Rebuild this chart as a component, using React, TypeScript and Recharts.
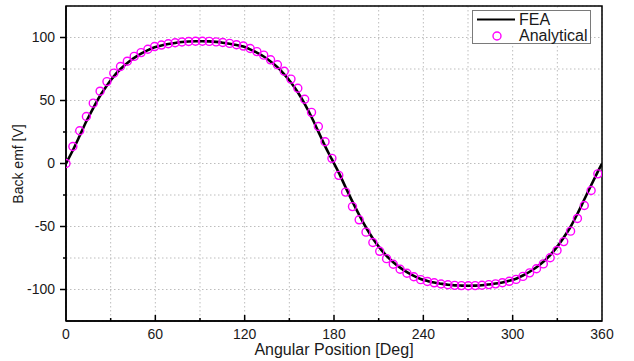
import { ComposedChart, Line, XAxis, YAxis, CartesianGrid, ReferenceArea, Label } from 'recharts';

// sample angles [deg] (analytical points are spaced ~4.58 deg, FEA closes at 360)
const angles = [
  0, 4.6, 9.2, 13.7, 18.3, 22.9, 27.5, 32.1, 36.6, 41.2, 45.8, 50.4, 55.0, 59.5, 64.1, 68.7,
  73.3, 77.9, 82.4, 87.0, 91.6, 96.2, 100.8, 105.3, 109.9, 114.5, 119.1, 123.7, 128.2, 132.8,
  137.4, 142.0, 146.6, 151.1, 155.7, 160.3, 164.9, 169.5, 174.0, 178.6, 183.2, 187.8, 192.4,
  196.9, 201.5, 206.1, 210.7, 215.3, 219.8, 224.4, 229.0, 233.6, 238.2, 242.7, 247.3, 251.9,
  256.5, 261.1, 265.6, 270.2, 274.8, 279.4, 284.0, 288.5, 293.1, 297.7, 302.3, 306.9, 311.4,
  316.0, 320.6, 325.2, 329.8, 334.3, 338.9, 343.5, 348.1, 352.7, 357.2, 360,
];

const fea = [
  0, 10.5, 22, 33.5, 44, 53.8, 62, 69.2, 75, 79.8, 83.8, 87.2, 90, 92.2, 93.7, 94.8,
  95.7, 96.4, 96.8, 97, 97, 96.9, 96.5, 95.9, 95.1, 94.1, 92.8, 90.6, 88, 84.9,
  81, 76.5, 70.8, 64.3, 56.5, 47.3, 36.9, 25.3, 13.8, 3.2, -7.3, -18.9, -30.3,
  -40.8, -50.8, -59.5, -67, -73.3, -78.3, -82.6, -86.2, -89.2, -91.6, -93.2, -94.5, -95.4,
  -96.2, -96.7, -96.9, -97, -96.9, -96.6, -96, -95.3, -94.4, -93.1, -91.4, -88.9, -85.9,
  -82.3, -78, -72.7, -66.2, -58.7, -50.2, -39.9, -28.6, -17.3, -6.5, 0,
];

const analytical = [
  0, 13.5, 26, 37.3, 47.9, 57.4, 65, 71.7, 77, 81.2, 85, 88, 90.7, 92.8, 94, 95,
  95.8, 96.4, 96.8, 97, 97, 96.9, 96.5, 96, 95.3, 94.3, 93.2, 91.3, 88.8, 86,
  82.3, 78.4, 73.2, 67, 59.7, 51, 40.6, 29.4, 17.3, 4.1, -9.4, -22.7, -34.2,
  -44.7, -54.5, -62.7, -69.7, -75.5, -80, -83.9, -87.1, -89.9, -92.2, -93.6, -94.7, -95.6,
  -96.2, -96.7, -96.9, -97, -96.9, -96.6, -96.1, -95.5, -94.6, -93.5, -92, -89.6, -86.8,
  -83.5, -79.7, -74.8, -69, -62, -53.7, -43.6, -33.3, -21.4, -8.2,
];

const xTicks = [0, 30, 60, 90, 120, 150, 180, 210, 240, 270, 300, 330, 360];
const yTicks = [-125, -100, -75, -50, -25, 0, 25, 50, 75, 100, 125];

const rows = angles.map((a, i) => ({ angle: a, fea: fea[i], analytical: analytical[i] }));

const FONT = '"Liberation Sans", Arial, sans-serif';

function XTick({ x, y, payload }: any) {
  const v = payload.value;
  const major = v % 60 === 0;
  return (
    <g>
      {v !== 0 && v !== 360 && (
        <line x1={x} x2={x} y1={y} y2={y - (major ? 6 : 3)} stroke="#000" strokeWidth={1.5} />
      )}
      {major && (
        <text x={x} y={y + 17.5} textAnchor="middle" fontSize={14} fontFamily={FONT} fill="#1a1a1a">
          {v}
        </text>
      )}
    </g>
  );
}

function YTick({ x, y, payload }: any) {
  const v = payload.value;
  if (Math.abs(v) === 125) return <g />;
  const major = v % 50 === 0;
  return (
    <g>
      <line x1={x} x2={x - (major ? 6 : 3)} y1={y} y2={y} stroke="#000" strokeWidth={1.5} />
      {major && (
        <text x={x - 11} y={y} dy="0.35em" textAnchor="end" fontSize={14} fontFamily={FONT} fill="#1a1a1a">
          {v}
        </text>
      )}
    </g>
  );
}

export default function App() {
  return (
    <div style={{ position: 'relative', width: 634, height: 361, background: '#fff' }}>
      <style>{'body{margin:0}'}</style>
      <ComposedChart width={634} height={361} data={rows} margin={{ top: 6, right: 32, bottom: 0, left: 0 }}>
        <CartesianGrid stroke="#bdbdbd" strokeDasharray="1.5 2.5" strokeWidth={1} />
        <XAxis
          dataKey="angle"
          type="number"
          domain={[0, 360]}
          ticks={xTicks}
          interval={0}
          height={40}
          tickSize={0}
          tickMargin={0}
          tickLine={false}
          axisLine={{ stroke: '#000', strokeWidth: 1.5 }}
          tick={<XTick />}
          allowDataOverflow
        >
          <Label
            value="Angular Position [Deg]"
            position="insideBottom"
            offset={6}
            style={{ fontSize: 16, fontFamily: FONT, fill: '#1a1a1a' }}
          />
        </XAxis>
        <YAxis
          type="number"
          domain={[-125, 125]}
          ticks={yTicks}
          interval={0}
          width={66}
          tickSize={0}
          tickMargin={0}
          tickLine={false}
          axisLine={{ stroke: '#000', strokeWidth: 1.5 }}
          tick={<YTick />}
          allowDataOverflow
        >
          <Label
            content={() => (
              <text
                x={18}
                y={164}
                dy="0.35em"
                transform="rotate(-90, 18, 164)"
                textAnchor="middle"
                fontSize={14}
                fontFamily={FONT}
                fill="#1a1a1a"
              >
                Back emf [V]
              </text>
            )}
          />
        </YAxis>
        <Line
          type="monotone"
          dataKey="fea"
          stroke="#000"
          strokeWidth={2.6}
          dot={false}
          activeDot={false}
          isAnimationActive={false}
        />
        <Line
          type="monotone"
          dataKey="analytical"
          stroke="none"
          dot={{ r: 4, stroke: '#ff00ff', strokeWidth: 1.4, fill: 'none' }}
          activeDot={false}
          isAnimationActive={false}
        />
        <ReferenceArea x1={0} x2={360} y1={-125} y2={125} fill="none" stroke="#000" strokeWidth={1.5} ifOverflow="visible" />
      </ComposedChart>
      <div
        style={{
          position: 'absolute',
          left: 472,
          top: 10,
          width: 119,
          height: 34,
          border: '1px solid #7a7a7a',
          background: '#fff',
          boxSizing: 'border-box',
          fontFamily: FONT,
          fontSize: 16,
          color: '#1a1a1a',
        }}
      >
        <svg width={119} height={34} style={{ position: 'absolute', left: -1, top: -1 }}>
          <line x1={5} x2={43} y1={9.5} y2={9.5} stroke="#000" strokeWidth={2} />
          <circle cx={25} cy={26} r={4} stroke="#ff00ff" strokeWidth={1.4} fill="none" />
        </svg>
        <span style={{ position: 'absolute', left: 46, top: 0, lineHeight: '18px' }}>FEA</span>
        <span style={{ position: 'absolute', left: 46, top: 16, lineHeight: '18px' }}>Analytical</span>
      </div>
    </div>
  );
}
